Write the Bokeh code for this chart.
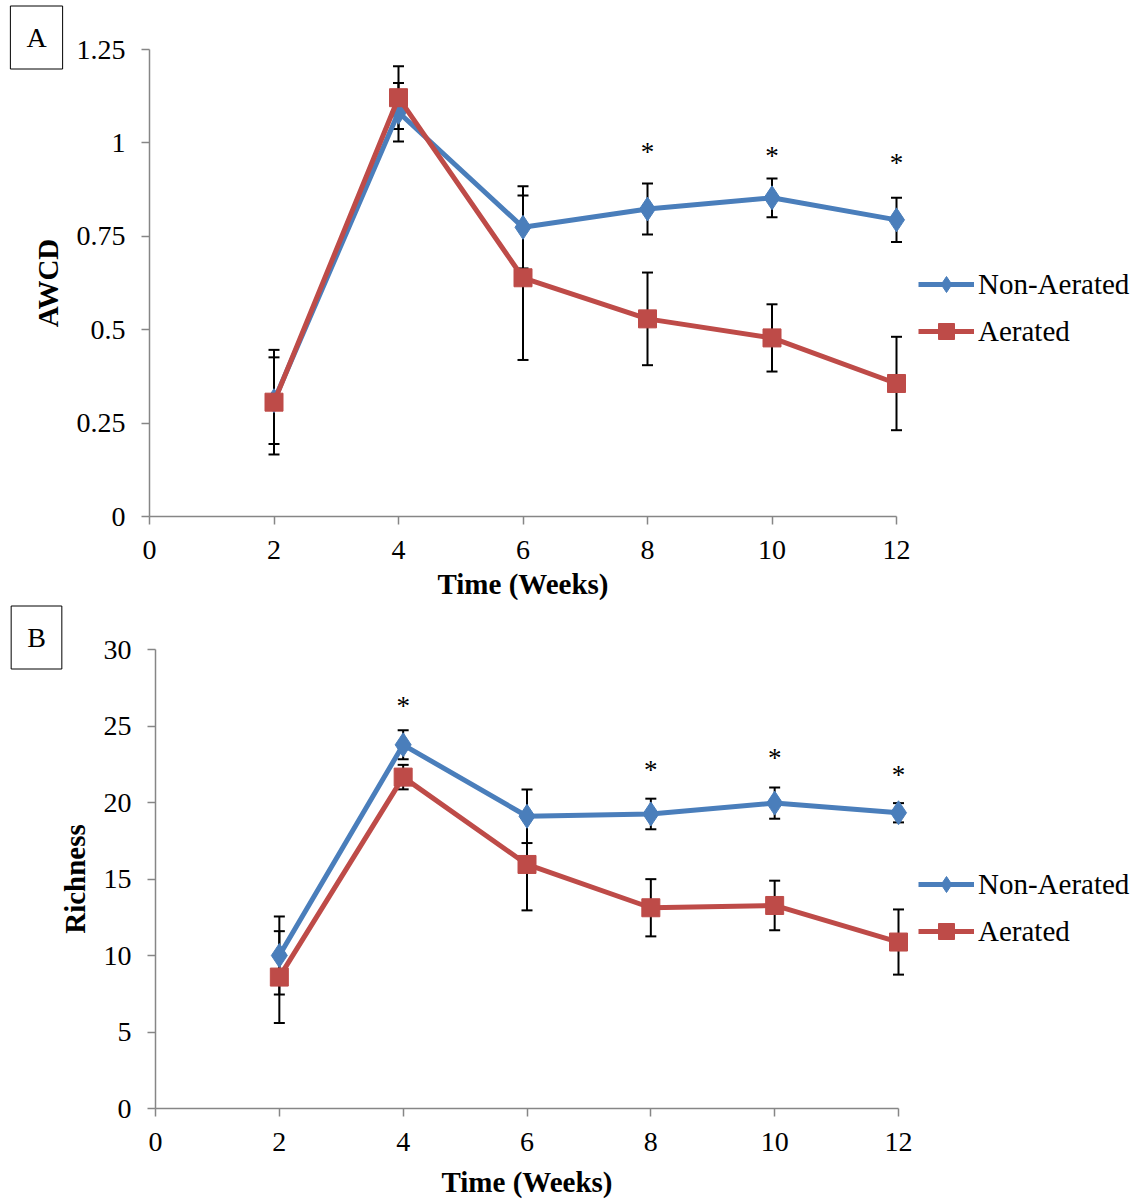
from bokeh.plotting import figure
from bokeh.models import ColumnDataSource, Whisker, TeeHead, Legend, LegendItem, Label, FixedTicker
from bokeh.layouts import column
from bokeh.embed import file_html
from bokeh.resources import INLINE

weeks = [2, 4, 6, 8, 10, 12]

awcd_non = [0.31, 1.082, 0.774, 0.823, 0.853, 0.794]
awcd_non_err = [0.116, 0.078, 0.11, 0.068, 0.052, 0.059]
awcd_aer = [0.306, 1.121, 0.639, 0.529, 0.478, 0.356]
awcd_aer_err = [0.14, 0.084, 0.22, 0.124, 0.09, 0.125]
awcd_star_x = [8, 10, 12]
awcd_star_y = [0.975, 0.965, 0.945]

rich_non = [10.0, 23.77, 19.1, 19.25, 19.96, 19.33]
rich_non_err = [2.55, 0.95, 1.75, 1.0, 1.02, 0.63]
rich_aer = [8.59, 21.66, 15.95, 13.12, 13.27, 10.88]
rich_aer_err = [3.0, 0.8, 3.0, 1.87, 1.62, 2.13]
rich_star_x = [4, 8, 10, 12]
rich_star_y = [26.3, 22.1, 22.9, 21.8]

x_ticks = [0, 2, 4, 6, 8, 10, 12]
awcd_ticks = [0, 0.25, 0.5, 0.75, 1, 1.25]
awcd_tick_labels = ["0", "0.25", "0.5", "0.75", "1", "1.25"]
rich_ticks = [0, 5, 10, 15, 20, 25, 30]

BLUE = "#4A7EBB"
RED = "#BE4B48"
FONT = "Liberation Serif"
AXIS = "#868686"
W, H = 1136, 600


def make_panel(letter, ylabel, non, non_err, aer, aer_err, yticks, ymax, star_x, star_y,
               px_x0, px_x12, px_y0, px_ytop, box_cy, xtitle_standoff, labels=None):
    # pixel geometry of the plotting area inside this 1136x600 figure
    sx = (px_x12 - px_x0) / 12.0
    sy = (px_y0 - px_ytop) / ymax
    xr = (-px_x0 / sx, (W - px_x0) / sx)
    yr = (-(H - px_y0) / sy, px_y0 / sy)

    def dx(px):
        return (px - px_x0) / sx

    def dy(py):
        return (px_y0 - py) / sy

    p = figure(width=W, height=H, output_backend="svg", toolbar_location=None,
               x_range=xr, y_range=yr,
               min_border_left=0, min_border_right=0, min_border_top=0, min_border_bottom=0)
    p.outline_line_color = None
    p.xgrid.grid_line_color = None
    p.ygrid.grid_line_color = None
    p.xaxis.fixed_location = 0
    p.yaxis.fixed_location = 0
    p.xaxis.bounds = (0, 12)
    p.yaxis.bounds = (0, ymax)
    for ax in (p.xaxis[0], p.yaxis[0]):
        ax.axis_line_color = AXIS
        ax.axis_line_width = 1.5
        ax.major_tick_line_color = AXIS
        ax.major_tick_line_width = 1.5
        ax.minor_tick_line_color = None
        ax.major_tick_in = 0
        ax.major_tick_out = 8
        ax.major_label_text_font = FONT
        ax.major_label_text_font_size = "28px"
        ax.major_label_text_color = "black"
        ax.axis_label_text_font = FONT
        ax.axis_label_text_font_size = "29px"
        ax.axis_label_text_font_style = "bold"
        ax.axis_label_text_color = "black"
    p.xaxis.ticker = FixedTicker(ticks=x_ticks)
    p.yaxis.ticker = FixedTicker(ticks=yticks)
    if labels:
        p.yaxis.major_label_overrides = {t: l for t, l in zip(yticks, labels)}
    p.xaxis.axis_label = "Time (Weeks)"
    p.yaxis.axis_label = ylabel
    p.xaxis.major_label_standoff = 16
    p.yaxis.major_label_standoff = 16
    p.xaxis.axis_label_standoff = xtitle_standoff
    p.yaxis.axis_label_standoff = 10

    src_n = ColumnDataSource(dict(x=weeks, y=non,
                                  lo=[v - e for v, e in zip(non, non_err)],
                                  hi=[v + e for v, e in zip(non, non_err)]))
    src_a = ColumnDataSource(dict(x=weeks, y=aer,
                                  lo=[v - e for v, e in zip(aer, aer_err)],
                                  hi=[v + e for v, e in zip(aer, aer_err)]))
    for src in (src_n, src_a):
        w = Whisker(base="x", upper="hi", lower="lo", source=src,
                    line_color="black", line_width=2,
                    upper_head=TeeHead(size=11, line_color="black", line_width=2),
                    lower_head=TeeHead(size=11, line_color="black", line_width=2))
        p.add_layout(w)

    ln = p.line("x", "y", source=src_n, line_color=BLUE, line_width=5)
    mn = p.scatter("x", "y", source=src_n, marker="diamond", size=24,
                   fill_color=BLUE, line_color=BLUE)
    la = p.line("x", "y", source=src_a, line_color=RED, line_width=5)
    ma = p.scatter("x", "y", source=src_a, marker="square", size=18,
                   fill_color=RED, line_color=RED)

    p.text(x=star_x, y=star_y, text=["*"] * len(star_x), text_font=FONT,
           text_font_size="27px", text_align="center", text_baseline="middle",
           text_color="black")

    legend = Legend(items=[LegendItem(label="Non-Aerated", renderers=[ln, mn]),
                           LegendItem(label="Aerated", renderers=[la, ma])],
                    location=(918, 249), orientation="vertical",
                    glyph_width=56, glyph_height=40, label_height=40,
                    label_standoff=4, spacing=7, padding=0, margin=0,
                    border_line_color=None, background_fill_alpha=0,
                    label_text_font=FONT, label_text_font_size="29px",
                    label_text_color="black")
    p.add_layout(legend, "center")

    lab = Label(x=dx(36), y=dy(box_cy), text=letter, text_color="black",
                text_font=FONT, text_font_size="28px", text_align="center",
                text_baseline="middle", border_line_color="black", border_line_width=1,
                background_fill_color="white", padding=16)
    p.add_layout(lab)
    return p


pA = make_panel("A", "AWCD", awcd_non, awcd_non_err, awcd_aer, awcd_aer_err,
                awcd_ticks, 1.25, awcd_star_x, awcd_star_y,
                149, 896, 516, 49, 37, 6, awcd_tick_labels)
pB = make_panel("B", "Richness", rich_non, rich_non_err, rich_aer, rich_aer_err,
                rich_ticks, 30, rich_star_x, rich_star_y,
                155, 898, 508, 49, 37, 12)

layout = column(pA, pB, spacing=0)
open("out.html", "w").write(file_html(layout, INLINE))
